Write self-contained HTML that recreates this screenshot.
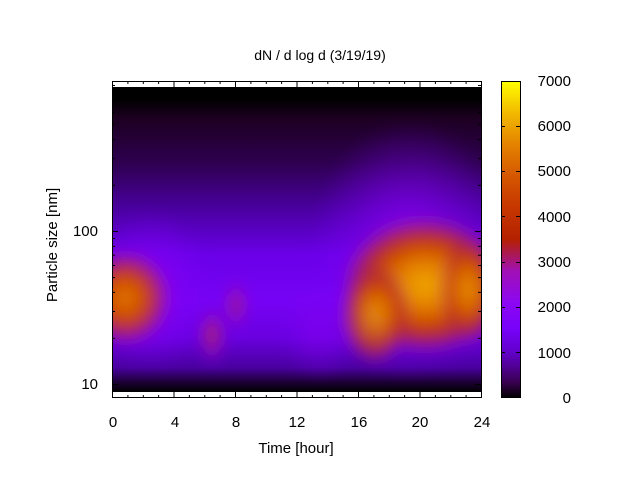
<!DOCTYPE html>
<html><head><style>
body{margin:0;background:#fff;}
svg{display:block;font-family:"Liberation Sans","DejaVu Sans",sans-serif;}
</style></head><body>
<svg width="640" height="480" viewBox="0 0 640 480" xmlns="http://www.w3.org/2000/svg">
<defs>
<linearGradient id="cb" x1="0" y1="1" x2="0" y2="0">
<stop offset="0" stop-color="#000000"/>
<stop offset="0.05" stop-color="#390050"/>
<stop offset="0.1" stop-color="#510096"/>
<stop offset="0.15" stop-color="#6301ce"/>
<stop offset="0.22" stop-color="#7802fa"/>
<stop offset="0.3" stop-color="#8c07f3"/>
<stop offset="0.4" stop-color="#a110b5"/>
<stop offset="0.5" stop-color="#b42000"/>
<stop offset="0.6" stop-color="#c63700"/>
<stop offset="0.7" stop-color="#d55700"/>
<stop offset="0.8" stop-color="#e48300"/>
<stop offset="0.9" stop-color="#f2ba00"/>
<stop offset="1" stop-color="#ffff00"/>
</linearGradient>
<linearGradient id="bg" x1="0" y1="0" x2="0" y2="1">
<stop offset="0" stop-color="#000000"/>
<stop offset="0.04" stop-color="#000000"/>
<stop offset="0.1" stop-color="#1c0020"/>
<stop offset="0.25" stop-color="#2e0050"/>
<stop offset="0.4" stop-color="#4a00a0"/>
<stop offset="0.55" stop-color="#6a00e8"/>
<stop offset="0.7" stop-color="#7602f5"/>
<stop offset="0.82" stop-color="#6a00e0"/>
<stop offset="0.92" stop-color="#4a00a0"/>
<stop offset="0.97" stop-color="#1a0030"/>
<stop offset="1" stop-color="#000000"/>
</linearGradient>
<radialGradient id="blobR">
<stop offset="0" stop-color="#f0a800"/>
<stop offset="0.3" stop-color="#e48000"/>
<stop offset="0.6" stop-color="#c84000"/>
<stop offset="0.8" stop-color="#b02040" stop-opacity="0.8"/>
<stop offset="1" stop-color="#9010c0" stop-opacity="0"/>
</radialGradient>
<radialGradient id="blobL">
<stop offset="0" stop-color="#e07800"/>
<stop offset="0.45" stop-color="#cc4400"/>
<stop offset="0.75" stop-color="#a81870" stop-opacity="0.8"/>
<stop offset="1" stop-color="#8a08e0" stop-opacity="0"/>
</radialGradient>
<radialGradient id="blobS">
<stop offset="0" stop-color="#b02840"/>
<stop offset="0.6" stop-color="#9a10b0" stop-opacity="0.7"/>
<stop offset="1" stop-color="#8008f0" stop-opacity="0"/>
</radialGradient>
<radialGradient id="purp">
<stop offset="0" stop-color="#8a08f0"/>
<stop offset="1" stop-color="#7a02f8" stop-opacity="0"/>
</radialGradient>
<clipPath id="clip"><rect x="112" y="87" width="369" height="305"/></clipPath>
<filter id="bl" x="-20%" y="-20%" width="140%" height="140%"><feGaussianBlur stdDeviation="7"/></filter>
</defs>
<text x="320" y="60" font-size="14" text-anchor="middle">dN / d log d (3/19/19)</text>
<g clip-path="url(#clip)">
<rect x="112" y="87" width="369" height="305" fill="url(#bg)"/>
<g filter="url(#bl)">
<ellipse cx="150" cy="290" rx="60" ry="80" fill="url(#purp)"/>
<ellipse cx="410" cy="250" rx="100" ry="130" fill="url(#purp)"/>
<ellipse cx="320" cy="330" rx="40" ry="50" fill="url(#purp)" opacity="0.6"/>
<ellipse cx="125" cy="298" rx="48" ry="50" fill="url(#blobL)"/>
<ellipse cx="212" cy="335" rx="14" ry="30" fill="url(#blobS)"/>
<ellipse cx="236" cy="305" rx="12" ry="28" fill="url(#blobS)" opacity="0.8"/>
<ellipse cx="425" cy="285" rx="85" ry="70" fill="url(#blobR)"/>
<ellipse cx="375" cy="315" rx="35" ry="50" fill="url(#blobR)" opacity="0.8"/>
<ellipse cx="470" cy="290" rx="30" ry="55" fill="url(#blobR)" opacity="0.7"/>
</g>
<rect x="112" y="87" width="369" height="7" fill="#000"/>
</g>
<rect x="112.5" y="81.5" width="369" height="316" fill="none" stroke="#000"/>
<g stroke="#000" stroke-width="1">
<path d="M112.5 398v-6M112.5 81v6M174 398v-6M174 81v6M235.5 398v-6M235.5 81v6M297 398v-6M297 81v6M358.5 398v-6M358.5 81v6M420 398v-6M420 81v6M481.5 398v-6M481.5 81v6"/>
<path d="M127.9 398v-3M143.3 398v-3M158.6 398v-3M189.4 398v-3M204.8 398v-3M220.1 398v-3M250.9 398v-3M266.3 398v-3M281.6 398v-3M312.4 398v-3M327.8 398v-3M343.1 398v-3M373.9 398v-3M389.3 398v-3M404.6 398v-3M435.4 398v-3M450.8 398v-3M466.1 398v-3
M127.9 81v3M143.3 81v3M158.6 81v3M189.4 81v3M204.8 81v3M220.1 81v3M250.9 81v3M266.3 81v3M281.6 81v3M312.4 81v3M327.8 81v3M343.1 81v3M373.9 81v3M389.3 81v3M404.6 81v3M435.4 81v3M450.8 81v3M466.1 81v3"/>
<path d="M112 384.5h6M481 384.5h-6M112 231.5h6M481 231.5h-6"/>
<path d="M112 338.4h3M112 311.5h3M112 292.4h3M112 277.6h3M112 265.5h3M112 255.2h3M112 246.4h3M112 238.5h3M112 185.4h3M112 158.5h3M112 139.4h3M112 124.6h3M112 112.5h3M112 102.2h3M112 93.4h3M112 85.5h3
M481 338.4h-3M481 311.5h-3M481 292.4h-3M481 277.6h-3M481 265.5h-3M481 255.2h-3M481 246.4h-3M481 238.5h-3M481 185.4h-3M481 158.5h-3M481 139.4h-3M481 124.6h-3M481 112.5h-3M481 102.2h-3M481 93.4h-3M481 85.5h-3"/>
</g>
<g font-size="15" text-anchor="middle">
<text x="113" y="427">0</text><text x="175" y="427">4</text><text x="236" y="427">8</text><text x="297" y="427">12</text><text x="359" y="427">16</text><text x="420" y="427">20</text><text x="482" y="427">24</text>
<text x="296" y="453">Time [hour]</text>
</g>
<g font-size="15" text-anchor="end">
<text x="98" y="389">10</text><text x="98" y="236">100</text>
</g>
<text transform="translate(57,245) rotate(-90)" font-size="15" text-anchor="middle">Particle size [nm]</text>
<rect x="501" y="81" width="19" height="317" fill="url(#cb)"/>
<rect x="501.5" y="81.5" width="19" height="316" fill="none" stroke="#000"/>
<g stroke="#000"><path d="M501 352.5h4M520 352.5h-4M501 307.5h4M520 307.5h-4M501 262.5h4M520 262.5h-4M501 216.5h4M520 216.5h-4M501 171.5h4M520 171.5h-4M501 126.5h4M520 126.5h-4"/></g>
<g font-size="15" text-anchor="end">
<text x="571" y="403">0</text><text x="571" y="358">1000</text><text x="571" y="312">2000</text><text x="571" y="267">3000</text><text x="571" y="222">4000</text><text x="571" y="176">5000</text><text x="571" y="131">6000</text><text x="571" y="86">7000</text>
</g>
</svg>
</body></html>
